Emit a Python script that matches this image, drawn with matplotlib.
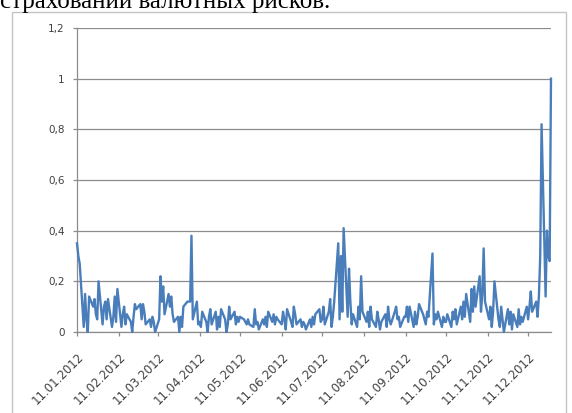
import matplotlib
matplotlib.use("Agg")
import matplotlib.pyplot as plt
import pandas as pd
from matplotlib.patches import Rectangle

# values by month, trading days from the 11th to the 10th of the next month
jan = [0.35, 0.30, 0.27, 0.02, 0.15, 0.05, 0.00, 0.14, 0.10, 0.13, 0.07, 0.05,
       0.20, 0.03, 0.10, 0.12, 0.05, 0.13, 0.02, 0.06, 0.14, 0.04, 0.17]
feb = [0.02, 0.07, 0.10, 0.03, 0.07, 0.04, 0.00, 0.06, 0.11, 0.09, 0.11, 0.05,
       0.11, 0.08, 0.03, 0.05, 0.02, 0.06, 0.04, 0.00]
mar = [0.05, 0.22, 0.12, 0.18, 0.07, 0.15, 0.10, 0.14, 0.07, 0.04, 0.06, 0.00,
       0.06, 0.02, 0.10, 0.12, 0.12, 0.12, 0.38, 0.05, 0.12, 0.03]
apr = [0.04, 0.02, 0.08, 0.04, 0.00, 0.06, 0.09, 0.03, 0.08, 0.01, 0.06, 0.02,
       0.09, 0.05, 0.00, 0.03, 0.10, 0.05, 0.08, 0.03, 0.06, 0.04]
may = [0.06, 0.05, 0.04, 0.03, 0.05, 0.03, 0.02, 0.09, 0.03, 0.04, 0.01, 0.05,
       0.03, 0.06, 0.02, 0.08, 0.04, 0.07, 0.03, 0.06, 0.05]
jun = [0.03, 0.08, 0.05, 0.01, 0.09, 0.04, 0.02, 0.10, 0.07, 0.03, 0.05, 0.02,
       0.04, 0.03, 0.01, 0.05, 0.02, 0.06, 0.03, 0.07, 0.09, 0.04]
jul = [0.05, 0.10, 0.03, 0.08, 0.13, 0.02, 0.06, 0.12, 0.35, 0.05, 0.30, 0.08,
       0.41, 0.06, 0.25, 0.12, 0.03, 0.07, 0.02, 0.10, 0.05, 0.22, 0.08]
aug = [0.04, 0.08, 0.02, 0.10, 0.05, 0.02, 0.08, 0.05, 0.01, 0.04, 0.07, 0.02,
       0.10, 0.05, 0.03, 0.08, 0.10, 0.05, 0.06, 0.02, 0.06]
sep = [0.06, 0.10, 0.04, 0.10, 0.02, 0.08, 0.03, 0.06, 0.11, 0.07, 0.05, 0.03,
       0.08, 0.06, 0.31, 0.03, 0.07, 0.05, 0.08, 0.02, 0.06, 0.04]
oct_ = [0.04, 0.07, 0.02, 0.08, 0.05, 0.09, 0.03, 0.10, 0.05, 0.12, 0.06, 0.15,
        0.04, 0.17, 0.08, 0.18, 0.10, 0.22, 0.08, 0.15, 0.33, 0.12]
nov = [0.05, 0.10, 0.02, 0.08, 0.20, 0.05, 0.02, 0.10, 0.05, 0.00, 0.09, 0.03,
       0.08, 0.01, 0.07, 0.02, 0.09, 0.03, 0.06, 0.04, 0.10]
dec = [0.05, 0.10, 0.16, 0.08, 0.12, 0.06, 0.14, 0.30, 0.82, 0.14, 0.40, 0.30,
       0.28, 1.00]

values = jan + feb + mar + apr + may + jun + jul + aug + sep + oct_ + nov + dec
dates = pd.bdate_range("2012-01-11", periods=len(values))

tick_dates = [pd.Timestamp(2012, m, 11) for m in range(1, 13)]
tick_labels = [d.strftime("%d.%m.%Y") for d in tick_dates]
y_ticks = [0, 0.2, 0.4, 0.6, 0.8, 1.0, 1.2]
y_labels = ["0", "0,2", "0,4", "0,6", "0,8", "1", "1,2"]

gray = "#8c8c8c"

fig = plt.figure(figsize=(5.72, 4.13), dpi=100)
ax = fig.add_axes([77 / 572, 1 - 332 / 413, 474 / 572, 304 / 413])

# chart frame and the cut-off line of text above it (cut in the source too)
fig.patches.append(Rectangle((12 / 572, -0.02), 554 / 572, 1.02 - 12 / 413,
                             transform=fig.transFigure, fill=False,
                             ec="#c4c4c4", lw=1))
fig.text(0, 1 - 8 / 413, "страховании валютных рисков.", family="Liberation Serif",
         fontsize=18, va="baseline", ha="left")

ax.plot(dates, values, color="#4a7ebb", lw=1.7, clip_on=False, zorder=3)

ax.set_xlim(dates[0], dates[-1])
ax.set_ylim(0, 1.2)
ax.set_yticks(y_ticks)
ax.set_yticklabels(y_labels)
ax.set_xticks(tick_dates)
ax.set_xticklabels(tick_labels, rotation=45, ha="right", va="top",
                   rotation_mode="anchor")

ax.yaxis.grid(True, color=gray, lw=0.9)
ax.set_axisbelow(True)
for s in ["top", "right"]:
    ax.spines[s].set_visible(False)
for s in ["left", "bottom"]:
    ax.spines[s].set_color(gray)
    ax.spines[s].set_linewidth(0.9)

ax.tick_params(axis="both", direction="out", length=3, color=gray, width=0.9,
               labelcolor="#404040")
ax.tick_params(axis="y", pad=6, labelsize=7.5)
ax.tick_params(axis="x", pad=10, labelsize=8.5)

fig.savefig("out.png", dpi=100)
